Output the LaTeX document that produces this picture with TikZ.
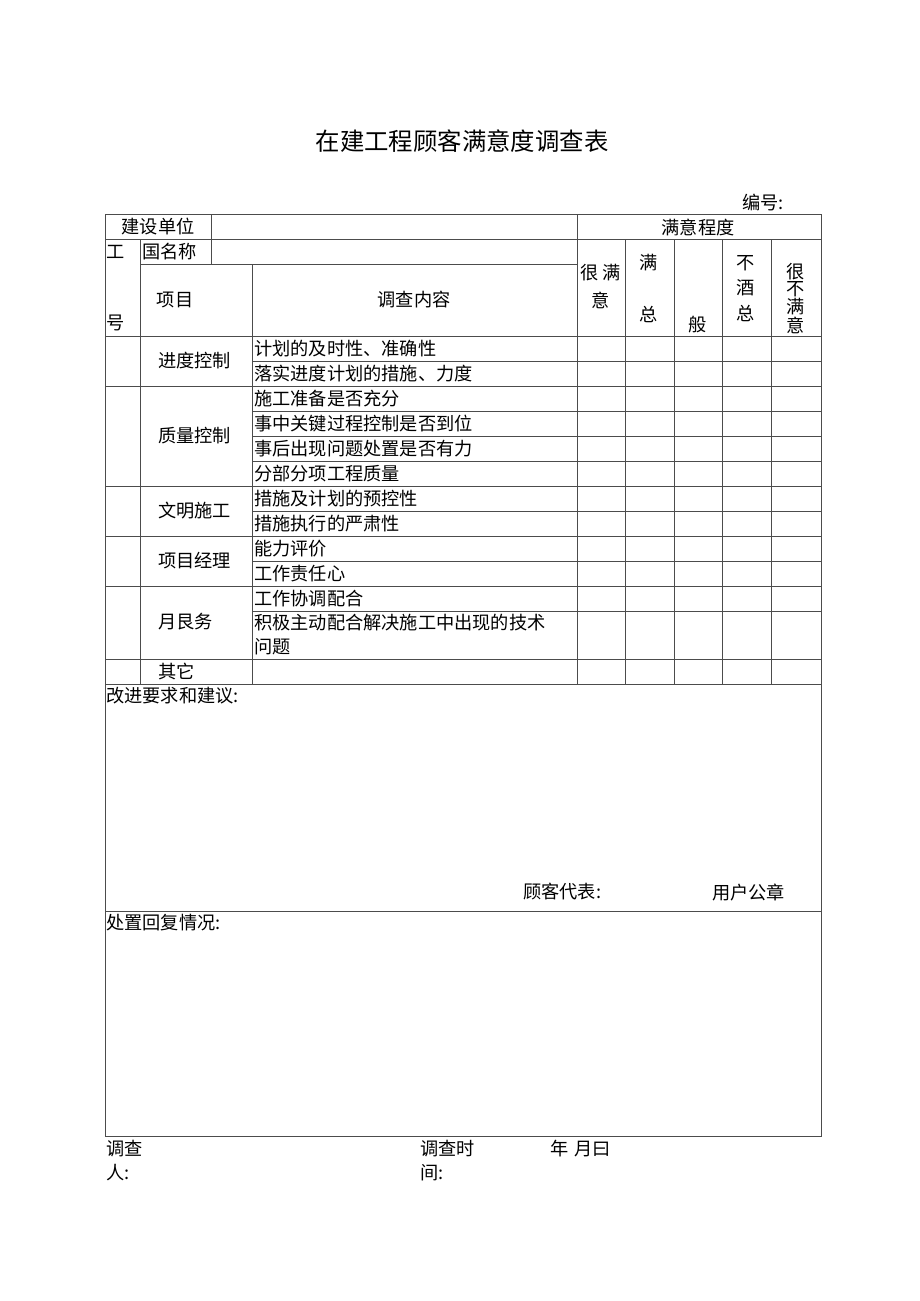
\documentclass[tikz,border=0pt]{standalone}
\usepackage{fontspec}
\newfontfamily\cjk{Noto Sans CJK SC}
\usetikzlibrary{positioning}

\begin{document}
\begin{tikzpicture}[
  x=1pt, y=-1pt,
  rule/.style = {draw=black!70, line width=0.9pt},
  txt/.style = {inner sep=0pt, font=\cjk\fontsize{18.2}{20}\selectfont},
  lefttxt/.style = {txt, anchor=west},
  titletxt/.style = {inner sep=0pt, font=\cjk\fontsize{24.4}{27}\selectfont}
  ]
  \useasboundingbox (0,0) rectangle (920,1301);

  % Titre
  \node[titletxt] (title) at (462,141) {在建工程顾客满意度调查表};
  \node[lefttxt] (number) at (742,203) {编号:};

  % Lignes du tableau
  \draw[rule] (105,214) rectangle (821,1136);
  \foreach \y in {239,336,386,486,536,586,659,684,911}
    \draw[rule] (105,\y) -- (821,\y);
  \draw[rule] (140,264) -- (577,264);
  \foreach \y in {361,411,436,461,511,561,611}
    \draw[rule] (252,\y) -- (821,\y);
  \draw[rule] (140,239) -- (140,684);
  \draw[rule] (211,214) -- (211,264);
  \draw[rule] (252,264) -- (252,684);
  \draw[rule] (577,214) -- (577,684);
  \foreach \x in {625,674,722,771}
    \draw[rule] (\x,239) -- (\x,684);

  % En-tete
  \node[txt] (unit) at (158,227) {建设单位};
  \node[lefttxt] (gong) at (106,252) {工};
  \node[lefttxt] (name) at (142,252) {国名称};
  \node[lefttxt] (hao) at (106,323) {号};
  \node[txt] (item) at (175,300) {项目};
  \node[txt] (content) at (414,300) {调查内容};
  \node[txt] (degree) at (698,227) {满意程度};

  % Colonnes de satisfaction
  \node[txt] (r1a) at (601,273) {很\hspace{4pt}满};
  \node[txt] (r1b) at (601,300) {意};
  \node[txt] (r2a) at (649,263) {满};
  \node[txt] (r2b) at (649,314) {总};
  \node[txt] (r3a) at (698,325) {般};
  \node[txt] (r4a) at (746,263) {不};
  \node[txt] (r4b) at (746,288) {酒};
  \node[txt] (r4c) at (746,313) {总};
  \node[txt] (r5a) at (796,272) {很};
  \node[txt] (r5b) at (796,289) {不};
  \node[txt] (r5c) at (796,307) {满};
  \node[txt] (r5d) at (796,325) {意};

  % Groupes
  \node[lefttxt] (g1) at (158,361) {进度控制};
  \node[lefttxt] (g2) at (158,436) {质量控制};
  \node[lefttxt] (g3) at (158,511) {文明施工};
  \node[lefttxt] (g4) at (158,561) {项目经理};
  \node[lefttxt] (g5) at (158,622) {月艮务};
  \node[lefttxt] (g6) at (158,671) {其它};

  % Contenu
  \foreach \y/\t [count=\i] in {348.5/计划的及时性、准确性, 373.5/落实进度计划的措施、力度,
      398.5/施工准备是否充分, 423.5/事中关键过程控制是否到位, 448.5/事后出现问题处置是否有力,
      473.5/分部分项工程质量, 498.5/措施及计划的预控性, 523.5/措施执行的严肃性,
      548.5/能力评价, 573.5/工作责任心, 598.5/工作协调配合,
      623/积极主动配合解决施工中出现的技术, 647/问题}
    \node[lefttxt] (row\i) at (254,\y) {\t};

  % Avis et reponse
  \node[lefttxt] (advice) at (106,696) {改进要求和建议:};
  \node[lefttxt] (rep) at (523,892) {顾客代表:};
  \node[lefttxt] (seal) at (712,892) {用户公章};
  \node[lefttxt] (reply) at (106,923) {处置回复情况:};

  % Pied
  \node[lefttxt] (inv1) at (106,1149) {调查};
  \node[lefttxt] (inv2) at (106,1173) {人:};
  \node[lefttxt] (time1) at (420,1149) {调查时};
  \node[lefttxt] (time2) at (420,1173) {间:};
  \node[lefttxt] (date) at (550,1149) {年\hspace{6pt}月曰};

\end{tikzpicture}
\end{document}
